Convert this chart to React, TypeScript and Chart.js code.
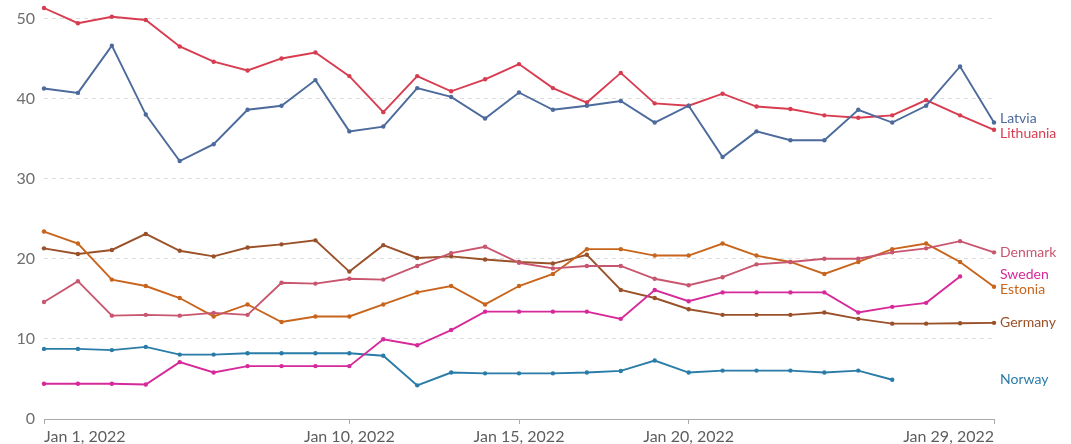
import React, { useEffect, useRef } from 'react';
import { Chart, registerables } from 'chart.js';

Chart.register(...registerables);

const categories = [
  'Jan 1, 2022', 'Jan 2, 2022', 'Jan 3, 2022', 'Jan 4, 2022', 'Jan 5, 2022', 'Jan 6, 2022',
  'Jan 7, 2022', 'Jan 8, 2022', 'Jan 9, 2022', 'Jan 10, 2022', 'Jan 11, 2022', 'Jan 12, 2022',
  'Jan 13, 2022', 'Jan 14, 2022', 'Jan 15, 2022', 'Jan 16, 2022', 'Jan 17, 2022', 'Jan 18, 2022',
  'Jan 19, 2022', 'Jan 20, 2022', 'Jan 21, 2022', 'Jan 22, 2022', 'Jan 23, 2022', 'Jan 24, 2022',
  'Jan 25, 2022', 'Jan 26, 2022', 'Jan 27, 2022', 'Jan 28, 2022', 'Jan 29, 2022',
];

const xTickLabels = ['Jan 1, 2022', 'Jan 10, 2022', 'Jan 15, 2022', 'Jan 20, 2022', 'Jan 29, 2022'];
const yTicks = [0, 10, 20, 30, 40, 50];

const lithuania = [51.3, 49.4, 50.2, 49.8, 46.5, 44.6, 43.5, 45.0, 45.75, 42.8, 38.3, 42.8, 40.9, 42.4, 44.3, 41.3, 39.5, 43.2, 39.4, 39.1, 40.6, 39.0, 38.7, 37.9, 37.6, 37.9, 39.8, 37.9, 36.1];
const latvia = [41.25, 40.7, 46.6, 38.0, 32.2, 34.3, 38.6, 39.1, 42.3, 35.9, 36.5, 41.3, 40.2, 37.5, 40.75, 38.6, 39.1, 39.7, 37.0, 39.1, 32.7, 35.9, 34.8, 34.8, 38.6, 37.0, 39.1, 44.0, 37.0];
const germany = [21.3, 20.6, 21.1, 23.1, 21.0, 20.3, 21.4, 21.8, 22.3, 18.4, 21.7, 20.1, 20.3, 19.9, 19.6, 19.4, 20.5, 16.1, 15.1, 13.7, 13.0, 13.0, 13.0, 13.3, 12.5, 11.9, 11.9, 11.95, 12.0];
const estonia = [23.4, 21.9, 17.4, 16.6, 15.1, 12.8, 14.3, 12.1, 12.8, 12.8, 14.3, 15.8, 16.6, 14.3, 16.6, 18.1, 21.2, 21.2, 20.4, 20.4, 21.9, 20.4, 19.6, 18.1, 19.6, 21.2, 21.9, 19.6, 16.5];
const denmark = [14.6, 17.2, 12.9, 13.0, 12.9, 13.25, 13.0, 17.0, 16.9, 17.5, 17.4, 19.1, 20.7, 21.5, 19.5, 18.8, 19.1, 19.1, 17.5, 16.7, 17.7, 19.3, 19.6, 20.0, 20.0, 20.8, 21.3, 22.2, 20.8];
const sweden = [4.4, 4.4, 4.4, 4.3, 7.1, 5.8, 6.6, 6.6, 6.6, 6.6, 9.96, 9.2, 11.1, 13.4, 13.4, 13.4, 13.4, 12.5, 16.1, 14.7, 15.8, 15.8, 15.8, 15.8, 13.3, 14.0, 14.5, 17.8, null];
const norway = [8.75, 8.75, 8.6, 9.0, 8.04, 8.04, 8.2, 8.2, 8.2, 8.2, 7.9, 4.2, 5.8, 5.7, 5.7, 5.7, 5.8, 6.0, 7.3, 5.8, 6.04, 6.04, 6.04, 5.8, 6.04, 4.9, null, null, null];

const seriesNames = ['Latvia', 'Lithuania', 'Denmark', 'Sweden', 'Estonia', 'Germany', 'Norway'];
const seriesValues = [latvia, lithuania, denmark, sweden, estonia, germany, norway];
const seriesColors = ['#4C6A9C', '#D73C50', '#C8566E', '#D6299A', '#C8651C', '#9A5129', '#2A7CA8'];

const endLabelsPlugin = {
  id: 'endLabels',
  afterDatasetsDraw(chart: any) {
    const { ctx, chartArea, scales } = chart;
    const gap = 15;
    const items = chart.data.datasets.map((ds: any) => {
      const vals = ds.data as (number | null)[];
      let last = null as number | null;
      for (let k = vals.length - 1; k >= 0; k--) {
        if (vals[k] !== null && vals[k] !== undefined) { last = vals[k]; break; }
      }
      return { label: ds.label, color: ds.borderColor, y0: scales.y.getPixelForValue(last), y: 0 };
    });
    items.sort((a: any, b: any) => a.y0 - b.y0);
    let clusters = items.map((it: any) => ({ members: [it] }));
    const place = (c: any) => {
      const n = c.members.length;
      const mean = c.members.reduce((s: number, m: any) => s + m.y0, 0) / n;
      c.members.forEach((m: any, k: number) => { m.y = mean - ((n - 1) * gap) / 2 + k * gap; });
    };
    clusters.forEach(place);
    let changed = true;
    while (changed) {
      changed = false;
      for (let i = 0; i < clusters.length - 1; i++) {
        const a = clusters[i];
        const b = clusters[i + 1];
        const aLast = a.members[a.members.length - 1].y;
        const bFirst = b.members[0].y;
        if (bFirst - aLast < gap) {
          const merged = { members: [...a.members, ...b.members] };
          place(merged);
          clusters.splice(i, 2, merged);
          changed = true;
          break;
        }
      }
    }
    ctx.save();
    ctx.font = '14px Lato';
    ctx.textAlign = 'left';
    ctx.textBaseline = 'middle';
    items.forEach((it: any) => {
      ctx.fillStyle = it.color;
      ctx.fillText(it.label, chartArea.right + 6, it.y);
    });
    ctx.restore();
  },
};

export default function App() {
  const canvasRef = useRef<HTMLCanvasElement | null>(null);

  useEffect(() => {
    if (!canvasRef.current) return;
    const allVals = seriesValues.flat().filter((v) => v !== null) as number[];
    const yMax = Math.max(...allVals);
    const chart = new Chart(canvasRef.current, {
      type: 'line',
      data: {
        labels: categories,
        datasets: seriesNames.map((name, i) => ({
          label: name,
          data: seriesValues[i],
          borderColor: seriesColors[i],
          backgroundColor: seriesColors[i],
          borderWidth: 1.9,
          pointRadius: 2.2,
          pointHoverRadius: 3,
          pointBorderWidth: 0,
          tension: 0,
          clip: false as any,
          spanGaps: false,
        })),
      },
      options: {
        responsive: false,
        animation: false,
        devicePixelRatio: 1,
        layout: { padding: { top: 8, right: 77, left: 0, bottom: 0 } },
        plugins: { legend: { display: false }, tooltip: { enabled: false } },
        scales: {
          x: {
            type: 'category',
            offset: false,
            afterFit: (scale: any) => { scale.height = 25; scale.paddingLeft = 0; scale.paddingRight = 0; },
            border: { display: true, color: '#aaaaaa', width: 1 },
            grid: {
              drawOnChartArea: false,
              drawTicks: true,
              tickLength: 5,
              tickColor: (ctx: any) => (xTickLabels.includes(categories[ctx.index]) ? '#aaaaaa' : 'rgba(0,0,0,0)'),
            },
            ticks: {
              autoSkip: false,
              maxRotation: 0,
              minRotation: 0,
              align: 'inner',
              padding: 3,
              color: '#5e5e5e',
              font: { family: 'Lato', size: 16 },
              callback: (_v: any, idx: number) => (xTickLabels.includes(categories[idx]) ? categories[idx] : ''),
            },
          },
          y: {
            min: 0,
            max: yMax,
            afterFit: (scale: any) => { scale.width = 44; scale.paddingTop = 0; scale.paddingBottom = 0; },
            afterBuildTicks: (scale: any) => { scale.ticks = yTicks.map((v) => ({ value: v })); },
            border: { display: false, dash: [4, 4] },
            grid: {
              drawTicks: false,
              color: (ctx: any) => (ctx.tick && ctx.tick.value === 0 ? 'rgba(0,0,0,0)' : '#dddddd'),
              lineWidth: 1,
            },
            ticks: {
              padding: 9,
              color: '#6e6e6e',
              font: { family: 'Lato', size: 16 },
            },
          },
        },
      },
      plugins: [endLabelsPlugin],
    });
    return () => chart.destroy();
  }, []);

  return (
    <div style={{ position: 'absolute', left: 0, top: 0, width: 1071, height: 444, background: '#fff' }}>
      <canvas ref={canvasRef} width={1071} height={444} />
    </div>
  );
}
